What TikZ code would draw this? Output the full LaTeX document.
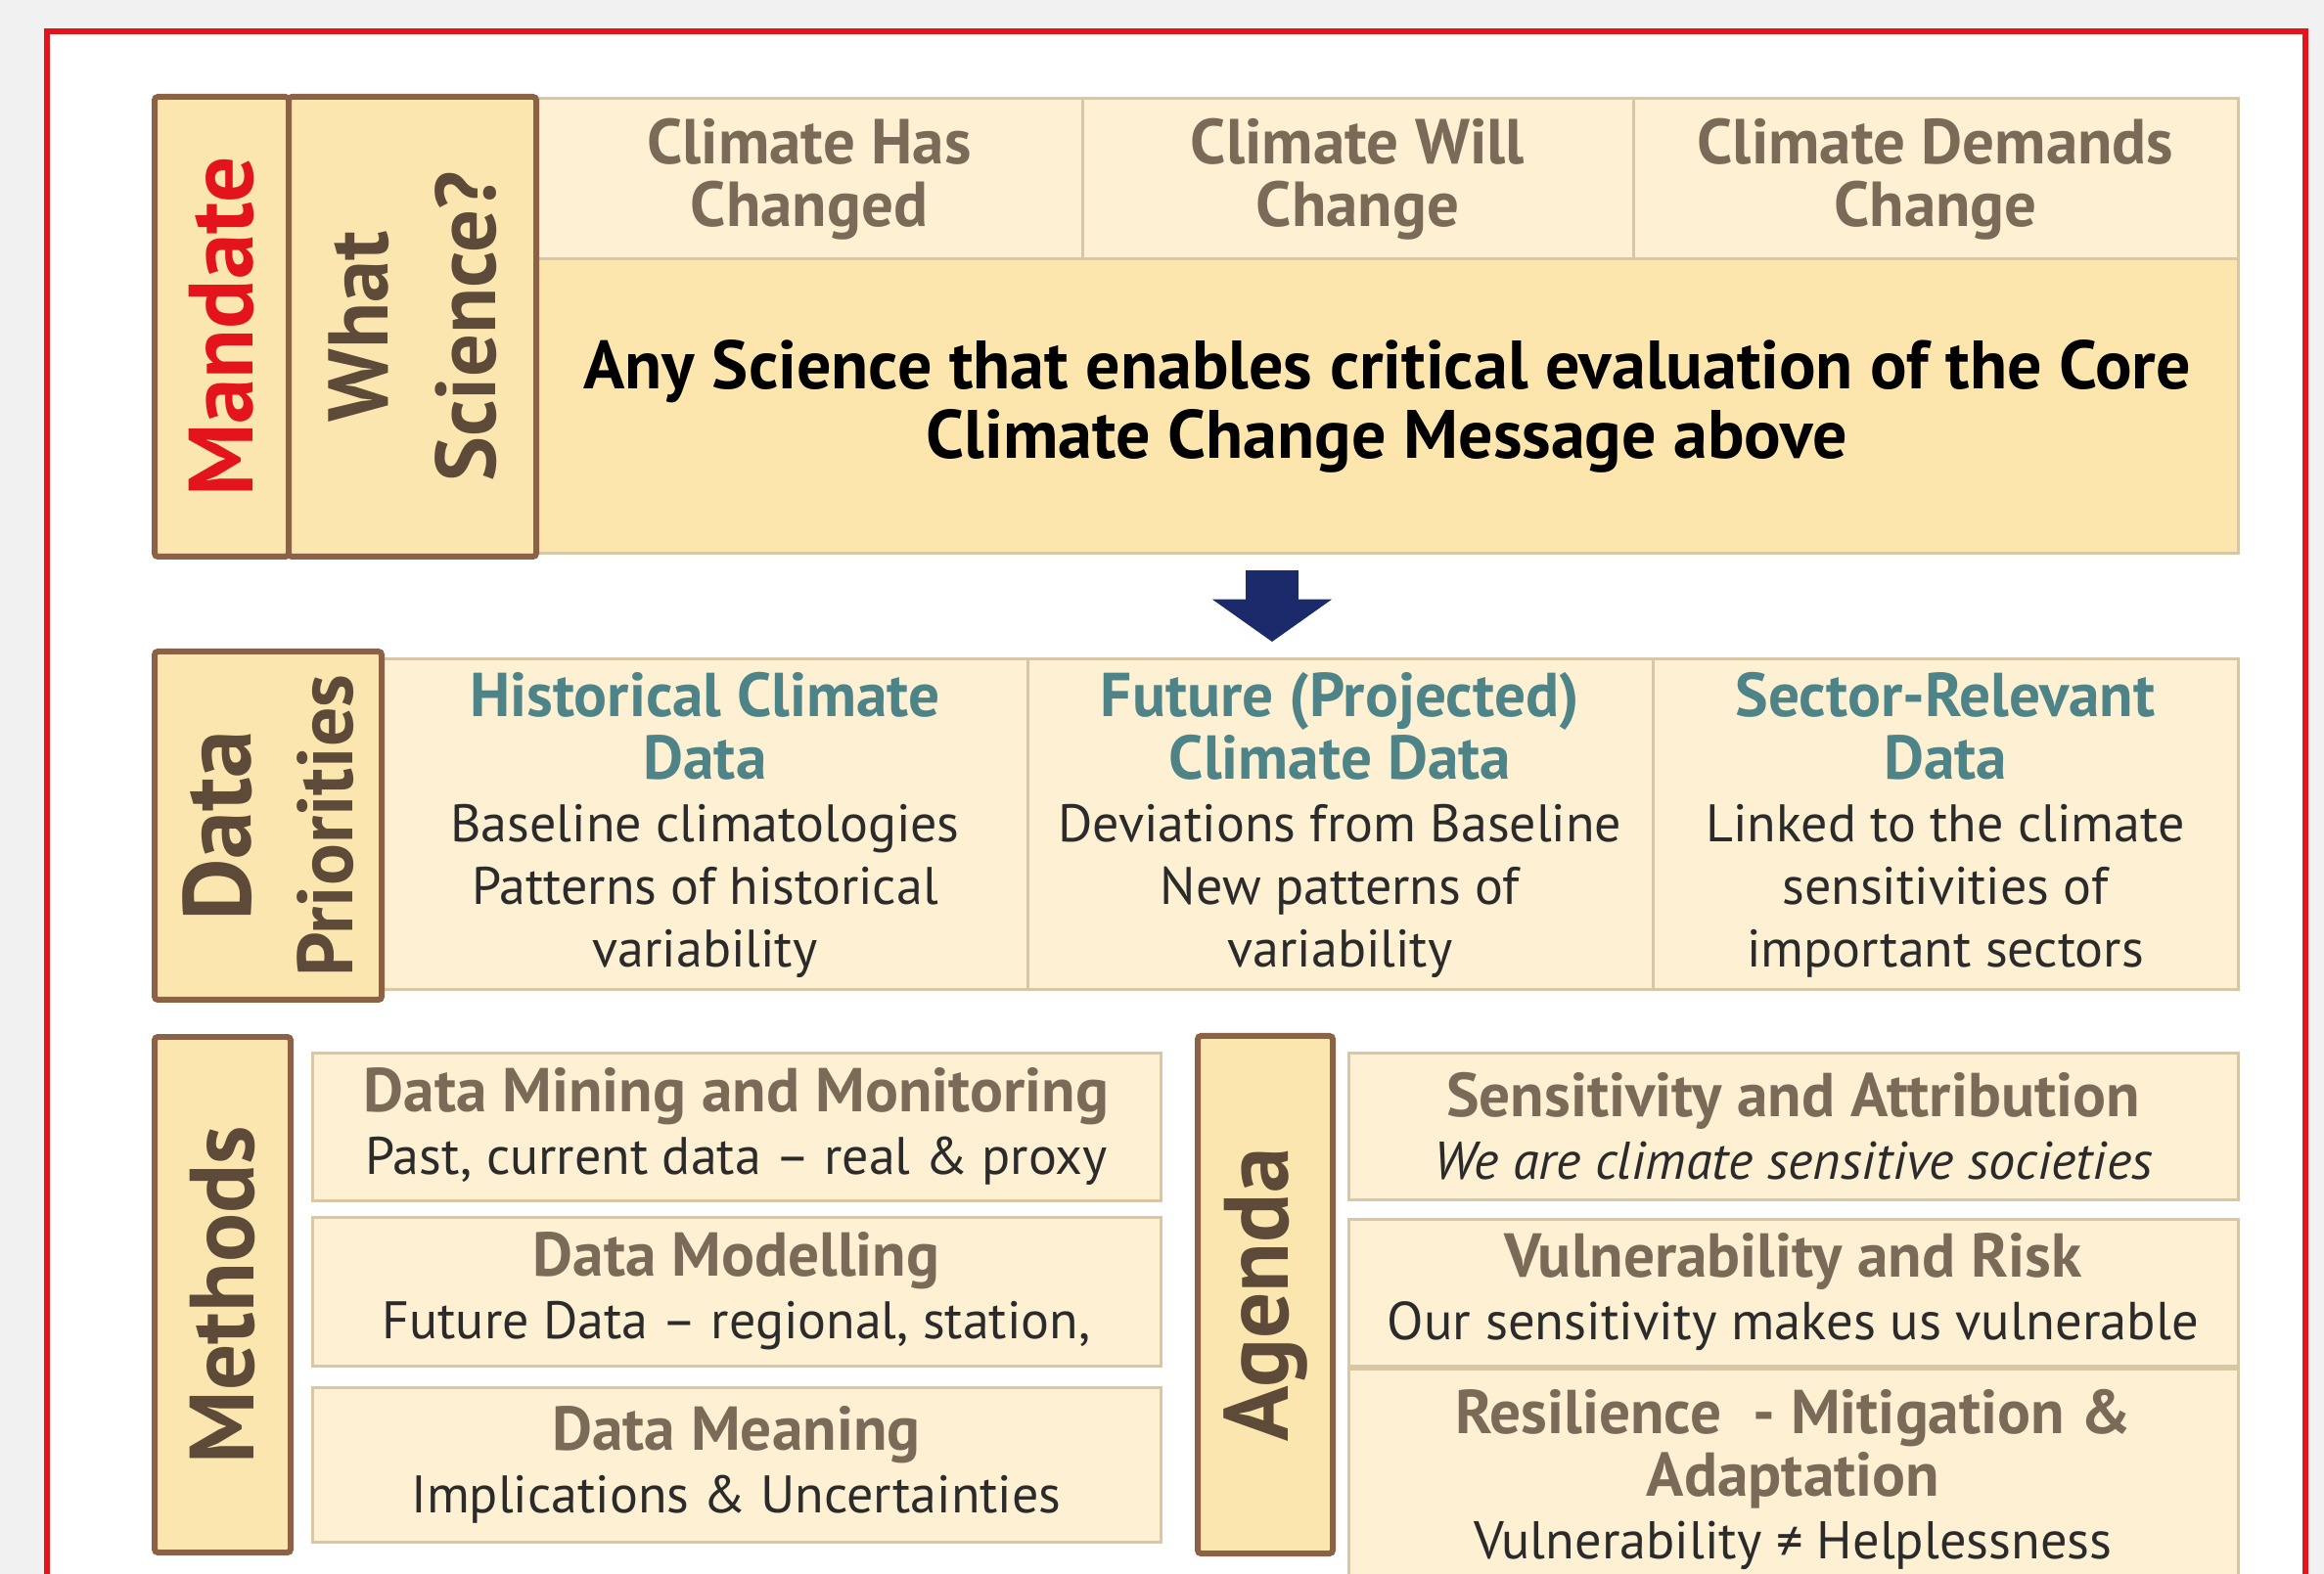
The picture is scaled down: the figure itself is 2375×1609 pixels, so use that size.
\documentclass[tikz,border=0pt]{standalone}
\usepackage{fontspec}
\setmainfont{PT Sans}
\usetikzlibrary{arrows.meta}
\definecolor{bggrey}{HTML}{F1F1F1}
\definecolor{frame}{HTML}{E3141B}
\definecolor{brownb}{HTML}{8B6246}
\definecolor{lblfill}{HTML}{FBE6B0}
\definecolor{cellfill}{HTML}{FDF0D3}
\definecolor{bigfill}{HTML}{FCE6AE}
\definecolor{celledge}{HTML}{D9C6A5}
\definecolor{headtxt}{HTML}{7B6A58}
\definecolor{lbltxt}{HTML}{5E4A38}
\definecolor{tealtxt}{HTML}{4E8488}
\definecolor{bodytxt}{HTML}{2B2B2B}
\definecolor{navy}{HTML}{1B2A6B}
\newcommand\dhead[1]{\textcolor{tealtxt}{\fontsize{19}{19.2}\selectfont\bfseries #1}}
\newcommand\mhead[1]{\textcolor{headtxt}{\fontsize{19}{19.2}\selectfont\bfseries #1}}
\newcommand\ahead[1]{\textcolor{headtxt}{\fontsize{19}{19.2}\selectfont\bfseries #1}}
\begin{document}
\begin{tikzpicture}[x=0.3pt,y=-0.3pt,
  lblbox/.style={draw=brownb,line width=1.8pt,fill=lblfill,rounded corners=1pt,inner sep=0pt,align=center,text=lbltxt},
  cellbox/.style={draw=celledge,line width=0.9pt,fill=cellfill,inner sep=0pt,align=center,text=bodytxt},
]
% background and frame
\fill[bggrey] (0,0) rectangle (2375,1609);
\path[use as bounding box] (0,0) rectangle (2375,1609);
\begin{scope}
\clip (0,0) rectangle (2375,1609);
\draw[frame,line width=1.8pt,fill=white] (48,32) rectangle (2356,1700);

% ---- Mandate block ----
\node[cellbox,minimum width=558*0.3pt,minimum height=164*0.3pt,text=headtxt,font=\fontsize{19.5}{19.2}\selectfont\bfseries] (c1) at (827,183) {Climate Has\\Changed};
\node[cellbox,minimum width=563*0.3pt,minimum height=164*0.3pt,text=headtxt,font=\fontsize{19.5}{19.2}\selectfont\bfseries] (c2) at (1387.5,183) {Climate Will\\Change};
\node[cellbox,minimum width=618*0.3pt,minimum height=164*0.3pt,text=headtxt,font=\fontsize{19.5}{19.2}\selectfont\bfseries] (c3) at (1978,183) {Climate Demands\\Change};
\node[cellbox,fill=bigfill,minimum width=1739*0.3pt,minimum height=301*0.3pt,text=black,font=\fontsize{21}{21.3}\selectfont\bfseries] (big) at (1417.5,415.5) {Any Science that enables critical evaluation of the Core\\Climate Change Message above};
\node[lblbox,rotate=90,minimum width=470*0.3pt,minimum height=137*0.3pt,text=frame,font=\fontsize{28}{30}\selectfont\bfseries] (mandate) at (226.5,334) {Mandate};
\node[lblbox,rotate=90,minimum width=470*0.3pt,minimum height=253*0.3pt,font=\fontsize{26}{33}\selectfont\bfseries] (whatsci) at (421.5,334) {What\\Science?};

% ---- arrow ----
\coordinate (aS) at (1300,583);
\coordinate (aE) at (1300,656);
\draw[navy,line width=16pt,-{Triangle[width=36pt,length=13pt]}] (aS) -- (aE);

% ---- Data priorities ----
\node[cellbox,minimum width=659*0.3pt,minimum height=338*0.3pt,font=\fontsize{16.2}{19.2}\selectfont] (d1) at (720.5,843) {\dhead{Historical Climate}\\\dhead{Data}\\Baseline climatologies\\Patterns of historical\\variability};
\node[cellbox,minimum width=639*0.3pt,minimum height=338*0.3pt,font=\fontsize{16.2}{19.2}\selectfont] (d2) at (1369.5,843) {\dhead{Future (Projected)}\\\dhead{Climate Data}\\Deviations from Baseline\\New patterns of\\variability};
\node[cellbox,minimum width=598*0.3pt,minimum height=338*0.3pt,font=\fontsize{16.2}{19.2}\selectfont] (d3) at (1988,843) {\dhead{Sector-Relevant}\\\dhead{Data}\\Linked to the climate\\sensitivities of\\important sectors};
\node[lblbox,rotate=90,minimum width=356*0.3pt,minimum height=232*0.3pt,font=\fontsize{24}{31}\selectfont\bfseries] (dp) at (274,844) {{\fontsize{29.5}{31}\selectfont Data}\\Priorities};

% ---- Methods ----
\node[cellbox,minimum width=867*0.3pt,minimum height=151*0.3pt,font=\fontsize{16.2}{19.2}\selectfont] (m1) at (752.5,1151.5) {\mhead{Data Mining and Monitoring}\\Past, current data – real \& proxy};
\node[cellbox,minimum width=867*0.3pt,minimum height=152*0.3pt,font=\fontsize{16.2}{19.2}\selectfont] (m2) at (752.5,1320) {\mhead{Data Modelling}\\Future Data – regional, station,};
\node[cellbox,minimum width=867*0.3pt,minimum height=158*0.3pt,font=\fontsize{16.2}{19.2}\selectfont] (m3) at (752.5,1497) {\mhead{Data Meaning}\\Implications \& Uncertainties};
\node[lblbox,rotate=90,minimum width=527*0.3pt,minimum height=139*0.3pt,font=\fontsize{28}{30}\selectfont\bfseries] (meth) at (227.5,1323.5) {Methods};

% ---- Agenda ----
\node[cellbox,minimum width=909*0.3pt,minimum height=150*0.3pt,font=\fontsize{16.3}{19.2}\selectfont] (a1) at (1832.5,1151) {\ahead{Sensitivity and Attribution}\\\textit{We are climate sensitive societies}};
\node[cellbox,minimum width=909*0.3pt,minimum height=150*0.3pt,font=\fontsize{16.4}{19.2}\selectfont] (a2) at (1832.5,1321) {\ahead{Vulnerability and Risk}\\Our sensitivity makes us vulnerable};
\node[cellbox,minimum width=909*0.3pt,minimum height=226*0.3pt,font=\fontsize{16.3}{19.2}\selectfont] (a3) at (1832.5,1512) {\ahead{Resilience \ - Mitigation \&}\\\ahead{Adaptation}\\Vulnerability ≠ Helplessness};
\node[lblbox,rotate=90,minimum width=529*0.3pt,minimum height=138*0.3pt,font=\fontsize{28}{30}\selectfont\bfseries] (agenda) at (1293,1323.5) {Agenda};
\end{scope}
\end{tikzpicture}
\end{document}
